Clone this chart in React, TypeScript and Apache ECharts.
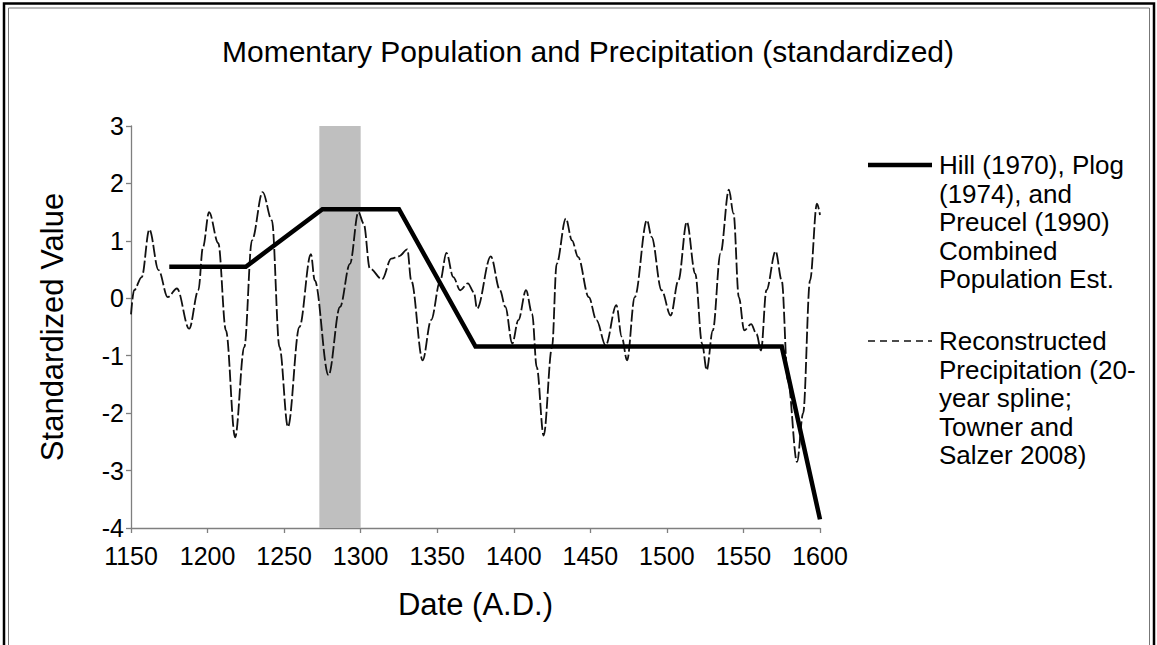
import React, { useEffect, useRef } from "react";
import * as echarts from "echarts";

const chartTitle = "Momentary Population and Precipitation (standardized)";
const xAxisTitle = "Date (A.D.)";
const yAxisTitle = "Standardized Value";

const popLegend = "Hill (1970), Plog\n(1974), and\nPreucel (1990)\nCombined\nPopulation Est.";
const precipLegend = "Reconstructed\nPrecipitation (20-\nyear spline;\nTowner and\nSalzer 2008)";

// Combined population estimate (standardized)
const popYears = [1175, 1225, 1275, 1325, 1375, 1575, 1600];
const popValues = [0.55, 0.55, 1.55, 1.55, -0.84, -0.84, -3.85];

// Reconstructed precipitation (20-year spline, standardized)
const precipYears = [
  1150, 1152, 1157, 1162, 1168, 1174, 1180, 1188, 1194, 1197,
  1201, 1207, 1212, 1218, 1224, 1229, 1236, 1242, 1247, 1252.5,
  1260, 1267.5, 1270, 1279, 1286.5, 1293, 1298.5, 1302, 1306, 1314,
  1320, 1325, 1330.5, 1333, 1340.5, 1346, 1352, 1356, 1360.5, 1365,
  1370, 1374, 1376, 1385, 1391, 1394.5, 1399, 1403, 1408, 1412,
  1415, 1419.5, 1425, 1428, 1434, 1438, 1442, 1449, 1454, 1460,
  1467, 1470.5, 1474, 1479, 1487, 1490, 1496.5, 1502.5, 1507.5, 1513,
  1518.5, 1523, 1526, 1530, 1535, 1540.5, 1543.5, 1547, 1550.5, 1555,
  1558.5, 1561.5, 1565, 1571, 1575, 1579, 1585, 1589, 1593.5, 1598,
  1600,
];
const precipValues = [
  -0.28, 0.14, 0.37, 1.2, 0.49, 0.02, 0.17, -0.53, 0.14, 0.89,
  1.5, 0.96, -0.56, -2.42, -0.85, 1.01, 1.85, 1.36, -0.85, -2.24,
  -0.5, 0.77, 0.31, -1.34, -0.15, 0.6, 1.5, 1.3, 0.52, 0.33,
  0.69, 0.73, 0.85, 0.31, -1.08, -0.38, 0.31, 0.79, 0.37, 0.14,
  0.26, 0.1, -0.18, 0.73, 0.14, -0.15, -0.79, -0.38, 0.14, -0.27,
  -1.2, -2.39, -0.85, 0.6, 1.39, 1.01, 0.72, 0.02, -0.38, -0.82,
  -0.12, -0.67, -1.08, 0.02, 1.36, 1.07, 0.14, -0.3, 0.31, 1.33,
  0.43, -0.79, -1.25, -0.56, 0.78, 1.89, 1.48, 0.02, -0.56, -0.45,
  -0.62, -0.91, 0.14, 0.82, 0.31, -1.43, -2.85, -2.0, 0.31, 1.65,
  1.45,
];

// Shaded period
const shadeStart = 1273;
const shadeEnd = 1300;

const xMin = 1150;
const xMax = 1600;
const xStep = 50;
const yMin = -4;
const yMax = 3;
const yStep = 1;

const FONT = "'Liberation Sans', Arial, Helvetica, sans-serif";

export default function App() {
  const ref = useRef<HTMLDivElement>(null);

  useEffect(() => {
    if (!ref.current) return;
    const chart = echarts.init(ref.current, undefined, { renderer: "svg" });

    const popData = popYears.map((y, i) => [y, popValues[i]]);
    const precipData = precipYears.map((y, i) => [y, precipValues[i]]);

    chart.setOption({
      animation: false,
      backgroundColor: "#ffffff",
      textStyle: { fontFamily: FONT },
      title: {
        text: chartTitle,
        left: 583,
        top: 31,
        textAlign: "center",
        textStyle: { fontFamily: FONT, fontSize: 30, fontWeight: "normal", color: "#000" },
      },
      grid: { left: 131, right: 337, top: 126, bottom: 117, containLabel: false },
      xAxis: {
        type: "value",
        min: xMin,
        max: xMax,
        interval: xStep,
        name: xAxisTitle,
        nameLocation: "middle",
        nameGap: 61,
        nameTextStyle: { fontFamily: FONT, fontSize: 31, color: "#000" },
        axisLine: { show: true, onZero: false, lineStyle: { color: "#7f7f7f", width: 1.3 } },
        axisTick: { show: true, length: 5, inside: false, lineStyle: { color: "#7f7f7f", width: 1.3 } },
        axisLabel: {
          fontFamily: FONT,
          fontSize: 25,
          color: "#000",
          margin: 15,
          formatter: (v: number) => String(v),
        },
        splitLine: { show: false },
      },
      yAxis: {
        type: "value",
        min: yMin,
        max: yMax,
        interval: yStep,
        name: yAxisTitle,
        nameLocation: "middle",
        nameGap: 63,
        nameRotate: 90,
        nameTextStyle: { fontFamily: FONT, fontSize: 31, color: "#000" },
        axisLine: { show: true, lineStyle: { color: "#7f7f7f", width: 1.3 } },
        axisTick: { show: true, length: 5, inside: false, lineStyle: { color: "#7f7f7f", width: 1.3 } },
        axisLabel: { fontFamily: FONT, fontSize: 25, color: "#000", margin: 7 },
        splitLine: { show: false },
      },
      series: [
        {
          name: "shade",
          type: "line",
          data: [],
          z: 1,
          silent: true,
          markArea: {
            silent: true,
            itemStyle: { color: "#bfbfbf" },
            data: [[{ xAxis: shadeStart }, { xAxis: shadeEnd }]],
          },
        },
        {
          name: "Reconstructed Precipitation",
          type: "line",
          data: precipData,
          smooth: 0.35,
          smoothMonotone: "x",
          showSymbol: false,
          z: 2,
          lineStyle: { color: "#111", width: 1.8, type: [12, 3] },
        },
        {
          name: "Combined Population Est.",
          type: "line",
          data: popData,
          showSymbol: false,
          z: 3,
          lineStyle: { color: "#000", width: 4.5, cap: "butt", join: "miter" },
        },
      ],
      graphic: [
        {
          type: "rect",
          shape: { x: 4, y: 3.5, width: 1150, height: 700 },
          style: { fill: "none", stroke: "#000", lineWidth: 2.5 },
          silent: true,
        },
        {
          type: "rect",
          shape: { x: 8.5, y: 8, width: 1141, height: 700 },
          style: { fill: "none", stroke: "#777", lineWidth: 1 },
          silent: true,
        },
        {
          type: "line",
          shape: { x1: 868, y1: 165, x2: 932, y2: 165 },
          style: { stroke: "#000", lineWidth: 4.5 },
        },
        {
          type: "text",
          x: 939,
          y: 151,
          style: {
            text: popLegend,
            fontFamily: FONT,
            fontSize: 26,
            lineHeight: 28.5,
            fill: "#000",
            verticalAlign: "top",
            align: "left",
          },
        },
        {
          type: "line",
          shape: { x1: 868, y1: 341, x2: 932, y2: 341 },
          style: { stroke: "#111", lineWidth: 1.6, lineDash: [7, 5] },
        },
        {
          type: "text",
          x: 939,
          y: 327,
          style: {
            text: precipLegend,
            fontFamily: FONT,
            fontSize: 26,
            lineHeight: 28.5,
            fill: "#000",
            verticalAlign: "top",
            align: "left",
          },
        },
      ],
    });

    return () => {
      chart.dispose();
    };
  }, []);

  return (
    <div
      ref={ref}
      style={{ position: "fixed", left: 0, top: 0, width: 1157, height: 645, background: "#fff" }}
    />
  );
}
